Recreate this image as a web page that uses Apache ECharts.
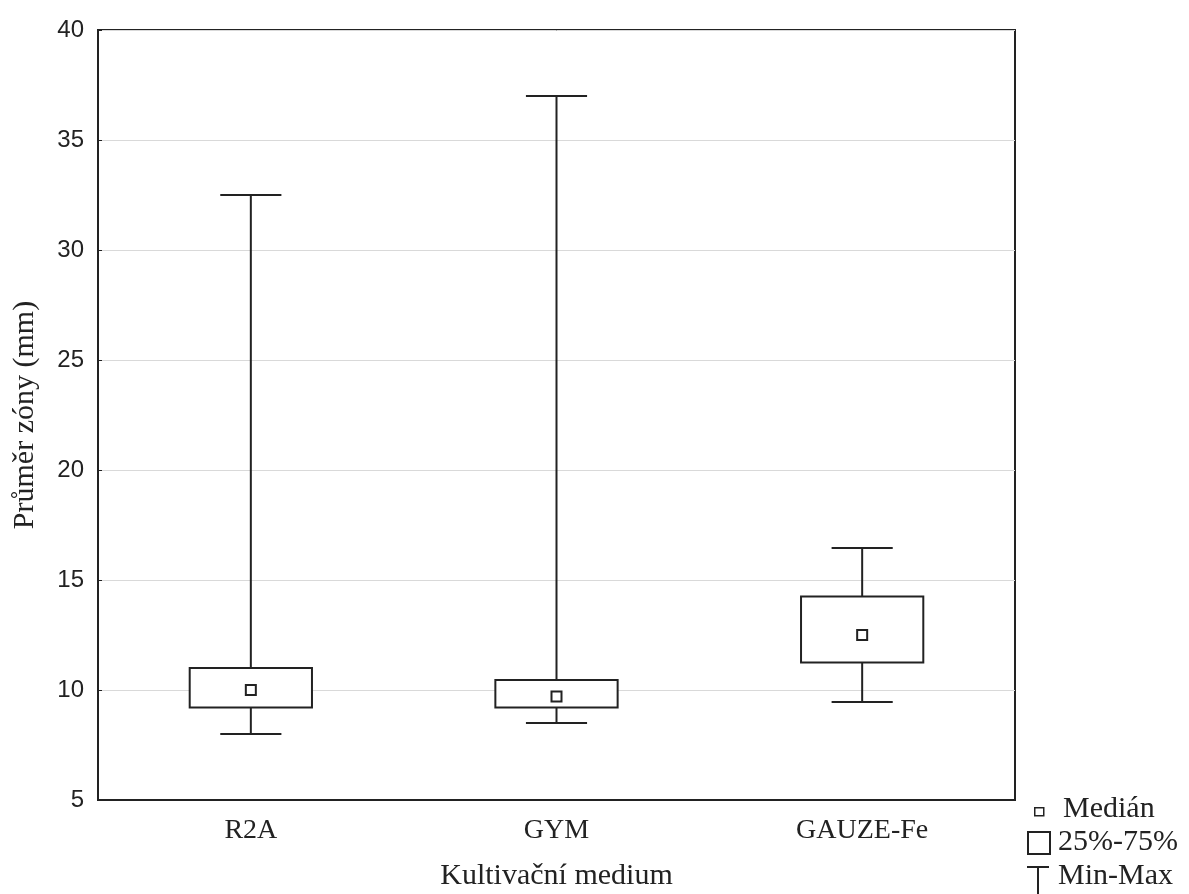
<!DOCTYPE html>
<html>
<head>
<meta charset="utf-8">
<script src="https://cdn.jsdelivr.net/npm/echarts@6/dist/echarts.min.js"></script>
<style>
    html, body { margin: 0; padding: 0; background: #fff; }
    #chart { width: 1189px; height: 894px; }
</style>
</head>
<body>
<div id="chart"></div>
<script>
    // kategorie a hodnoty
    var categories = ['R2A', 'GYM', 'GAUZE-Fe'];
    var minValues = [8, 8.5, 9.45];
    var q1Values = [9.2, 9.2, 11.25];
    var medianValues = [10, 9.7, 12.5];
    var q3Values = [11, 10.45, 14.25];
    var maxValues = [32.5, 37, 16.45];
    var yTicks = [5, 10, 15, 20, 25, 30, 35, 40];

    var boxData = categories.map(function (c, i) {
        return [i, minValues[i], q1Values[i], medianValues[i], q3Values[i], maxValues[i]];
    });

    var ink = '#222';
    var serif = '"Liberation Serif", "Times New Roman", serif';
    var sans = '"Liberation Sans", Arial, sans-serif';

    function renderBox(params, api) {
        var idx = api.value(0);
        var band = api.size([1, 0])[0];
        var boxW = band * 0.4;
        var capW = band * 0.2;
        var pMin = api.coord([idx, api.value(1)]);
        var pQ1 = api.coord([idx, api.value(2)]);
        var pMed = api.coord([idx, api.value(3)]);
        var pQ3 = api.coord([idx, api.value(4)]);
        var pMax = api.coord([idx, api.value(5)]);
        var cx = pMed[0];
        var lineStyle = {stroke: ink, lineWidth: 2, fill: null};
        return {
            type: 'group',
            children: [
                {type: 'line', shape: {x1: cx, y1: pMax[1], x2: cx, y2: pQ3[1]}, style: lineStyle},
                {type: 'line', shape: {x1: cx, y1: pQ1[1], x2: cx, y2: pMin[1]}, style: lineStyle},
                {type: 'line', shape: {x1: cx - capW / 2, y1: pMax[1], x2: cx + capW / 2, y2: pMax[1]}, style: lineStyle},
                {type: 'line', shape: {x1: cx - capW / 2, y1: pMin[1], x2: cx + capW / 2, y2: pMin[1]}, style: lineStyle},
                {
                    type: 'rect',
                    shape: {x: cx - boxW / 2, y: pQ3[1], width: boxW, height: pQ1[1] - pQ3[1]},
                    style: {stroke: ink, lineWidth: 2, fill: '#fff'}
                },
                {
                    type: 'rect',
                    shape: {x: cx - 5, y: pMed[1] - 5, width: 10, height: 10},
                    style: {stroke: ink, lineWidth: 2, fill: '#fff'}
                }
            ]
        };
    }

    var myChart = echarts.init(document.getElementById('chart'));

    var option = {
        backgroundColor: '#fff',
        animation: false,
        grid: {
            left: 98,
            right: 174,
            top: 30,
            bottom: 94,
            outerBoundsMode: 'none',
            containLabel: false,
            show: true,
            borderColor: ink,
            borderWidth: 2
        },
        xAxis: {
            type: 'category',
            data: categories,
            name: 'Kultivační medium',
            nameLocation: 'middle',
            nameGap: 61,
            nameTextStyle: {fontFamily: serif, fontSize: 30, color: ink},
            axisLine: {lineStyle: {color: ink, width: 2}},
            axisTick: {inside: true, alignWithLabel: true, length: 6, lineStyle: {color: ink}},
            axisLabel: {fontFamily: serif, fontSize: 28, color: ink, margin: 17},
            splitLine: {show: false}
        },
        yAxis: {
            type: 'value',
            min: yTicks[0],
            max: yTicks[yTicks.length - 1],
            interval: 5,
            name: 'Průměr zóny (mm)',
            nameLocation: 'middle',
            nameGap: 58,
            nameTextStyle: {fontFamily: serif, fontSize: 30, color: ink},
            axisLine: {show: true, lineStyle: {color: ink, width: 2}},
            axisTick: {show: true, inside: true, length: 4, lineStyle: {color: ink}},
            axisLabel: {fontFamily: sans, fontSize: 24, color: ink, margin: 14},
            splitLine: {lineStyle: {color: '#d9d9d9', width: 1}}
        },
        series: [{
            type: 'custom',
            renderItem: renderBox,
            encode: {x: 0, y: [1, 2, 3, 4, 5]},
            data: boxData
        }],
        graphic: [
            {type: 'rect', left: 1034, top: 807, shape: {width: 9, height: 8}, style: {stroke: ink, lineWidth: 1.5, fill: '#fff'}},
            {type: 'text', left: 1063, top: 794, style: {text: 'Medián', font: '30px ' + serif, fill: ink}},
            {type: 'rect', left: 1027, top: 831, shape: {width: 22, height: 22}, style: {stroke: ink, lineWidth: 2, fill: '#fff'}},
            {type: 'text', left: 1058, top: 827, style: {text: '25%-75%', font: '30px ' + serif, fill: ink}},
            {type: 'line', shape: {x1: 1027, y1: 867, x2: 1049, y2: 867}, style: {stroke: ink, lineWidth: 2}},
            {type: 'line', shape: {x1: 1038, y1: 867, x2: 1038, y2: 894}, style: {stroke: ink, lineWidth: 2}},
            {type: 'text', left: 1058, top: 861, style: {text: 'Min-Max', font: '30px ' + serif, fill: ink}}
        ]
    };

    myChart.setOption(option);
</script>
</body>
</html>
